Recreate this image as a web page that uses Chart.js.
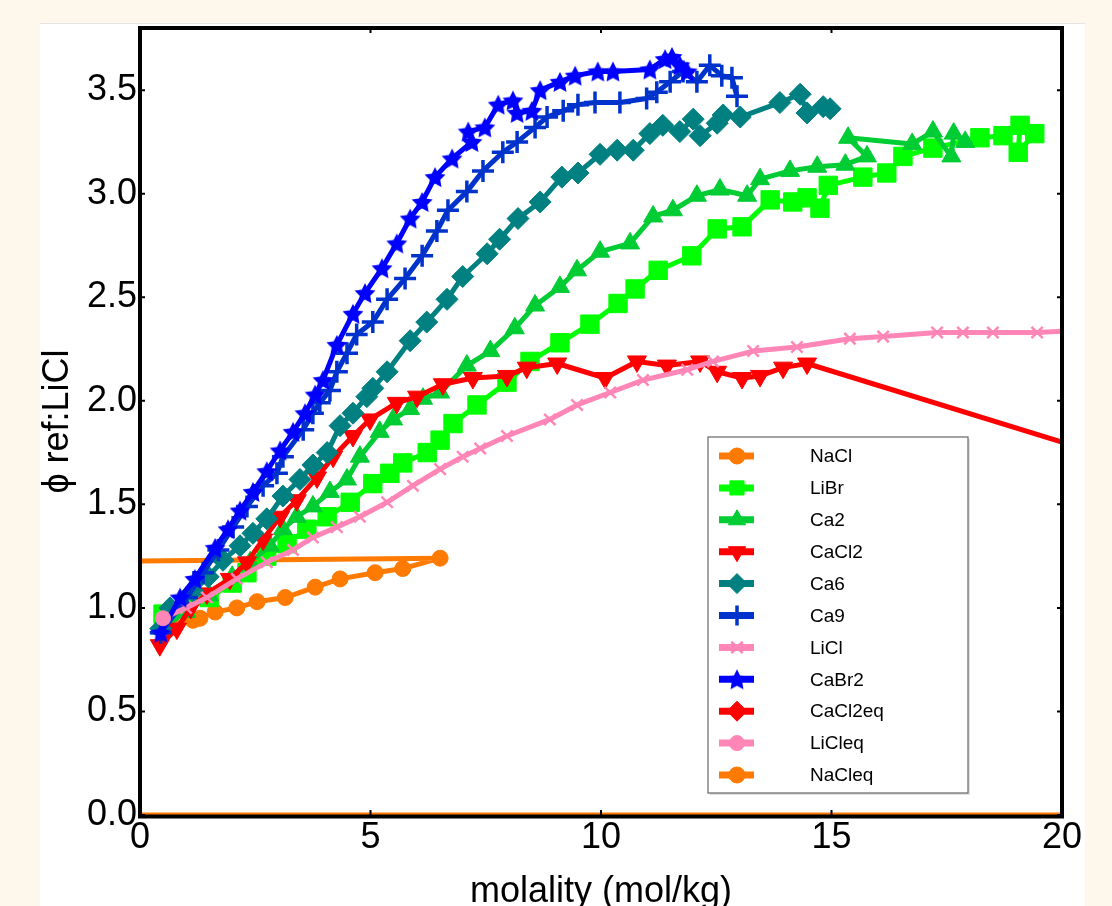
<!DOCTYPE html>
<html>
<head>
<meta charset="utf-8">
<script src="https://cdn.jsdelivr.net/npm/chart.js@4.4.1/dist/chart.umd.min.js"></script>
<style>
  html, body { margin: 0; padding: 0; background: #fdf8eb; overflow: hidden; }
  #panel { position: absolute; left: 40px; top: 23px; width: 1045px; height: 883px; background: #fff; border-top: 1px solid #e4e4e4; }
  #wrap { position: absolute; left: 0; top: 0; width: 1112px; height: 906px; }
</style>
</head>
<body>
<div id="panel"></div>
<div id="wrap"><canvas id="chart" width="1112" height="906"></canvas></div>
<script>
// series, [molality, phi]
const nacl = [[0.7,0.92],[1.15,0.94],[1.3,0.95],[1.63,0.98],[2.1,1.0],[2.54,1.03],[3.15,1.05],[3.8,1.10],[4.34,1.14],[5.1,1.17],[5.7,1.19],[6.51,1.24],[-0.5,1.225]];
const libr = [[0.5,0.97],[1.0,1.0],[1.5,1.05],[2.0,1.12],[2.32,1.17],[2.75,1.25],[3.19,1.31],[3.62,1.38],[4.06,1.44],[4.56,1.51],[5.05,1.60],[5.42,1.65],[5.7,1.70],[6.23,1.75],[6.51,1.81],[6.79,1.89],[7.31,1.98],[7.96,2.09],[8.46,2.19],[9.11,2.28],[9.76,2.37],[10.37,2.47],[10.74,2.54],[11.24,2.63],[11.97,2.70],[12.52,2.83],[13.06,2.84],[13.67,2.97],[14.16,2.96],[14.47,2.98],[14.75,2.93],[14.93,3.04],[15.68,3.08],[16.2,3.10],[16.55,3.18],[17.2,3.22],[18.22,3.27],[18.72,3.28],[19.09,3.33],[19.05,3.20],[19.41,3.29]];
const ca2 = [[0.45,0.9],[1.0,0.98],[1.5,1.06],[2.0,1.15],[2.39,1.22],[2.82,1.30],[3.1,1.38],[3.4,1.44],[3.75,1.49],[4.12,1.56],[4.49,1.62],[4.77,1.73],[5.2,1.85],[5.49,1.91],[5.86,1.96],[6.14,2.01],[6.51,2.04],[7.09,2.17],[7.6,2.24],[8.13,2.35],[8.57,2.46],[9.11,2.55],[9.48,2.63],[9.98,2.72],[10.63,2.76],[11.13,2.89],[11.56,2.92],[12.08,2.99],[12.58,3.02],[13.17,2.99],[13.45,3.07],[14.1,3.11],[14.69,3.13],[15.3,3.14],[15.77,3.18],[15.36,3.27],[16.75,3.24],[17.2,3.30],[17.6,3.18],[17.65,3.29],[17.9,3.25]];
const cacl2 = [[0.43,0.82],[0.8,0.9],[1.1,1.0],[1.45,1.07],[1.95,1.14],[2.32,1.22],[2.67,1.33],[3.04,1.44],[3.4,1.52],[3.84,1.63],[4.19,1.73],[4.62,1.83],[4.99,1.91],[5.57,1.99],[6.01,2.02],[6.57,2.08],[7.22,2.11],[7.96,2.12],[8.39,2.16],[9.05,2.18],[10.09,2.11],[10.78,2.19],[11.43,2.17],[12.15,2.19],[12.52,2.14],[13.06,2.11],[13.45,2.12],[13.95,2.16],[14.47,2.18]];
const ca6 = [[0.45,0.9],[0.65,1.0],[1.15,1.08],[1.48,1.15],[1.8,1.23],[2.17,1.30],[2.45,1.36],[2.75,1.43],[3.1,1.54],[3.47,1.62],[3.75,1.69],[4.06,1.75],[4.34,1.88],[4.62,1.94],[4.92,2.02],[5.05,2.06],[5.36,2.14],[5.86,2.29],[6.22,2.38],[6.66,2.49],[7.0,2.60],[7.53,2.71],[7.8,2.78],[8.2,2.88],[8.68,2.96],[9.15,3.08],[9.5,3.10],[9.98,3.19],[10.35,3.21],[10.7,3.21],[11.06,3.29],[11.34,3.33],[11.71,3.30],[12.0,3.36],[12.15,3.28],[12.52,3.34],[12.65,3.38],[13.02,3.37],[13.88,3.44],[14.32,3.48],[14.47,3.39],[14.82,3.42],[14.97,3.41]];
const ca9 = [[0.45,0.88],[1.02,1.05],[1.37,1.17],[1.7,1.28],[2.02,1.39],[2.32,1.49],[2.67,1.59],[2.97,1.65],[3.1,1.73],[3.54,1.86],[3.75,1.94],[3.9,1.99],[4.12,2.05],[4.27,2.14],[4.49,2.23],[4.7,2.32],[5.05,2.38],[5.36,2.49],[5.75,2.59],[6.12,2.70],[6.44,2.82],[6.68,2.92],[7.09,3.01],[7.44,3.11],[7.87,3.20],[8.18,3.25],[8.57,3.32],[8.83,3.37],[9.18,3.40],[9.5,3.43],[9.87,3.44],[10.41,3.44],[10.99,3.46],[11.21,3.49],[11.5,3.54],[11.78,3.59],[12.08,3.54],[12.36,3.62],[12.62,3.57],[12.84,3.56],[12.95,3.47]];
const licl = [[0.5,0.95],[1.0,1.0],[1.45,1.05],[2.1,1.14],[2.75,1.22],[3.32,1.28],[3.75,1.34],[4.27,1.39],[4.77,1.44],[5.36,1.51],[5.92,1.59],[6.51,1.67],[7.0,1.73],[7.38,1.77],[7.96,1.83],[8.89,1.91],[9.48,1.98],[10.2,2.04],[10.91,2.10],[11.87,2.15],[12.43,2.19],[13.3,2.24],[14.25,2.26],[15.4,2.30],[16.12,2.31],[17.29,2.33],[17.85,2.33],[18.5,2.33],[19.46,2.33],[20.5,2.34]];
const cabr2 = [[0.45,0.88],[0.87,1.05],[1.19,1.14],[1.63,1.29],[1.91,1.38],[2.17,1.47],[2.45,1.56],[2.75,1.66],[3.04,1.76],[3.32,1.85],[3.58,1.94],[3.8,2.03],[3.97,2.10],[4.27,2.27],[4.62,2.42],[4.88,2.52],[5.25,2.64],[5.57,2.76],[5.86,2.88],[6.12,2.96],[6.40,3.08],[6.77,3.17],[7.2,3.25],[7.12,3.30],[7.48,3.32],[7.77,3.43],[8.09,3.45],[8.18,3.39],[8.5,3.40],[8.68,3.50],[9.11,3.54],[9.44,3.57],[9.93,3.59],[10.26,3.59],[11.06,3.60],[11.39,3.65],[11.54,3.66],[11.71,3.62],[11.87,3.59]];
const cacl2eq = [[14.47,2.18],[20,1.80]];
const licleq = [[0.5,0.95]];
const nacleq = [[0,0],[20,0]];

const seriesNames = ["NaCl","LiBr","Ca2","CaCl2","Ca6","Ca9","LiCl","CaBr2","CaCl2eq","LiCleq","NaCleq"];
const seriesData = [nacl, libr, ca2, cacl2, ca6, ca9, licl, cabr2, cacl2eq, licleq, nacleq];
const xTicks = [0, 5, 10, 15, 20];
const yTicks = [0, 0.5, 1.0, 1.5, 2.0, 2.5, 3.0, 3.5];

function starImage(color, r) {
  const c = document.createElement("canvas");
  const s = Math.ceil(r * 2 + 2);
  c.width = s; c.height = s;
  const g = c.getContext("2d");
  g.fillStyle = color;
  g.beginPath();
  for (let i = 0; i < 10; i++) {
    const rr = i % 2 ? r * 0.5 : r;
    const a = -Math.PI / 2 + i * Math.PI / 5;
    g.lineTo(s / 2 + rr * Math.cos(a), s / 2 + 1 + rr * Math.sin(a));
  }
  g.closePath();
  g.fill();
  return c;
}

const orange = "#ff7a00", pink = "#ff86b6";
const styles = [
  { color: orange, pointStyle: "circle", radius: 8, bw: 1 },
  { color: "#00ff00", pointStyle: "rect", radius: 13, bw: 1 },
  { color: "#00cc33", pointStyle: "triangle", radius: 11, bw: 1 },
  { color: "#ff0000", pointStyle: "triangle", radius: 11, bw: 1, rotation: 180 },
  { color: "#008080", pointStyle: "rectRot", radius: 11, bw: 1 },
  { color: "#0033cc", pointStyle: "cross", radius: 11, bw: 3.5 },
  { color: pink, pointStyle: "crossRot", radius: 8, bw: 2.5 },
  { color: "#0000ff", pointStyle: starImage("#0000ff", 11), radius: 11, bw: 1 },
  { color: "#ff0000", pointStyle: "rectRot", radius: 10, bw: 1, hidePoints: true },
  { color: pink, pointStyle: "circle", radius: 7.5, bw: 1 },
  { color: orange, pointStyle: "circle", radius: 8, bw: 1, hidePoints: true, noClip: true },
];

const datasets = seriesNames.map((name, i) => {
  const st = styles[i];
  return {
    label: name,
    data: seriesData[i].map(p => ({ x: p[0], y: p[1] })),
    borderColor: st.color,
    backgroundColor: st.color,
    borderWidth: 5,
    borderJoinStyle: "round",
    pointStyle: st.pointStyle,
    pointRadius: st.hidePoints ? 0 : st.radius,
    pointBorderWidth: st.bw,
    pointRotation: st.rotation || 0,
    pointBackgroundColor: st.color,
    pointBorderColor: st.color,
    showLine: true,
    tension: 0,
    clip: st.noClip ? false : undefined,
    order: seriesNames.length - i,
  };
});

const fontFamily = "'Liberation Sans', Arial, sans-serif";

const framePlugin = {
  id: "frame",
  afterDatasetsDraw(chart) {
    const { ctx, chartArea: a, scales } = chart;
    ctx.save();
    ctx.strokeStyle = "#000";
    ctx.lineWidth = 2;
    ctx.beginPath();
    xTicks.forEach(v => {
      const px = scales.x.getPixelForValue(v);
      ctx.moveTo(px, a.bottom); ctx.lineTo(px, a.bottom - 5);
      ctx.moveTo(px, a.top); ctx.lineTo(px, a.top + 5);
    });
    yTicks.forEach(v => {
      const py = scales.y.getPixelForValue(v);
      ctx.moveTo(a.left, py); ctx.lineTo(a.left + 5, py);
      ctx.moveTo(a.right, py); ctx.lineTo(a.right - 5, py);
    });
    ctx.stroke();
    ctx.lineWidth = 4;
    ctx.strokeRect(a.left, a.top, a.right - a.left, a.bottom - a.top + 1.5);
    ctx.restore();
  }
};

const legendPlugin = {
  id: "boxLegend",
  afterDraw(chart) {
    const ctx = chart.ctx;
    const bx = 708, by = 437, bw = 260, bh = 356;
    ctx.save();
    ctx.fillStyle = "rgba(0,0,0,0.12)";
    ctx.fillRect(bx + 2, by + 2, bw, bh);
    ctx.fillStyle = "#fff";
    ctx.fillRect(bx, by, bw, bh);
    ctx.strokeStyle = "#666";
    ctx.lineWidth = 1.2;
    ctx.strokeRect(bx, by, bw, bh);
    chart.data.datasets.forEach((ds, i) => {
      const st = styles[i];
      const cy = 456 + i * 31.9;
      ctx.strokeStyle = st.color;
      ctx.lineWidth = 7;
      ctx.beginPath();
      ctx.moveTo(719, cy); ctx.lineTo(754, cy);
      ctx.stroke();
      ctx.fillStyle = st.color;
      ctx.strokeStyle = st.color;
      ctx.lineWidth = st.bw;
      Chart.helpers.drawPoint(ctx, {
        pointStyle: st.pointStyle, radius: Math.min(st.radius, 10), rotation: st.rotation || 0, borderWidth: st.bw
      }, 737, cy);
      ctx.fillStyle = "#000";
      ctx.font = "19px " + fontFamily;
      ctx.textBaseline = "middle";
      ctx.textAlign = "left";
      ctx.fillText(ds.label, 810, cy + 1);
    });
    ctx.restore();
  }
};

new Chart(document.getElementById("chart"), {
  type: "scatter",
  data: { datasets },
  options: {
    responsive: false,
    animation: false,
    layout: { padding: { top: 28, right: 50, left: 0, bottom: 0 } },
    plugins: { legend: { display: false }, tooltip: { enabled: false } },
    scales: {
      x: {
        type: "linear", min: 0, max: 20,
        afterBuildTicks: s => { s.ticks = xTicks.map(v => ({ value: v })); },
        afterFit: s => { s.height = 91; },
        grid: { display: false, drawTicks: false },
        border: { display: false },
        ticks: { color: "#000", font: { family: fontFamily, size: 36 }, padding: 1, maxRotation: 0, callback: v => String(v) },
        title: { display: true, text: "molality (mol/kg)", color: "#000", font: { family: fontFamily, size: 36 }, padding: { top: 0, bottom: -8 } }
      },
      y: {
        type: "linear", min: 0, max: 3.8,
        afterBuildTicks: s => { s.ticks = yTicks.map(v => ({ value: v })); },
        afterFit: s => { s.width = 140; },
        grid: { display: false, drawTicks: false },
        border: { display: false },
        ticks: { color: "#000", font: { family: fontFamily, size: 36 }, padding: 3, callback: v => v.toFixed(1) },
        title: { display: true, text: "ϕ ref:LiCl", color: "#000", font: { family: fontFamily, size: 36 }, padding: { top: 36, bottom: 0 } }
      }
    }
  },
  plugins: [framePlugin, legendPlugin]
});
</script>
</body>
</html>
